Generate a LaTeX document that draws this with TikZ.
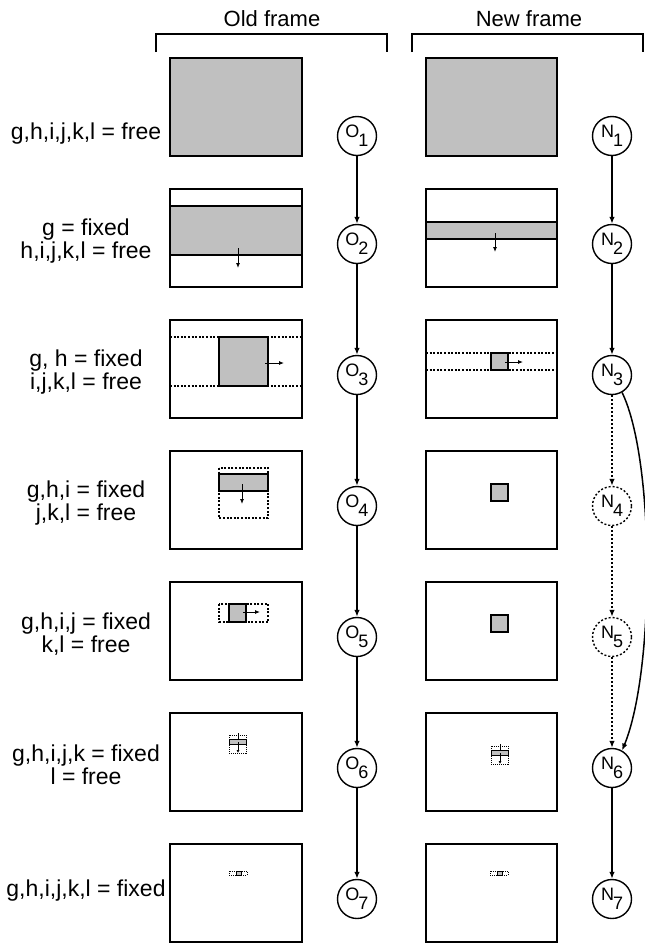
\documentclass[tikz,border=0pt]{standalone}
\usepackage{fontspec}
\setmainfont{Liberation Sans}
\usetikzlibrary{arrows.meta}
\definecolor{boxgray}{RGB}{192,192,192}
\begin{document}
\begin{tikzpicture}[x=1pt,y=-1pt,
  frame/.style={draw=black,line width=1.1pt},
  fillg/.style={fill=boxgray,draw=black,line width=1.1pt},
  dots/.style={draw=black,line width=1.1pt,dash pattern=on 2pt off 1.6pt},
  tdots/.style={draw=black,line width=0.7pt,dash pattern=on 1pt off 1pt},
  mv/.style={line width=0.9pt,-{Latex[length=5pt,width=4pt]}},
  tmv/.style={line width=0.7pt,-{Latex[length=3pt,width=3pt]}},
  st/.style={circle,draw,line width=1.4pt,minimum size=39pt,inner sep=0pt,font=\fontsize{18}{18}\selectfont},
  dst/.style={st,dash pattern=on 2pt off 2pt},
  conn/.style={line width=1.5pt,-{Latex[length=7pt,width=5.5pt]}},
  dconn/.style={conn,dash pattern=on 2pt off 2pt},
  lbl/.style={align=center,font=\fontsize{23}{22.5}\selectfont},
  hdr/.style={font=\fontsize{22}{24}\selectfont},
  brk/.style={line width=1.4pt}
]
\useasboundingbox (0,0) rectangle (645,943);

% headers and brackets
\node[hdr] (oldh) at (272,19) {Old frame};
\node[hdr] (newh) at (529,19) {New frame};
\draw[brk] (156,52) -- (156,34) -- (387,34) -- (387,52);
\draw[brk] (412,52) -- (412,34) -- (643,34) -- (643,52);

% row labels
\node[lbl] (l1) at (86,134) {g,h,i,j,k,l = free};
\node[lbl] (l2) at (86,241) {g = fixed\\h,i,j,k,l = free};
\node[lbl] (l3) at (86,372) {g, h = fixed\\i,j,k,l = free};
\node[lbl] (l4) at (86,503) {g,h,i = fixed\\j,k,l = free};
\node[lbl] (l5) at (86,634) {g,h,i,j = fixed\\k,l = free};
\node[lbl] (l6) at (86,765) {g,h,i,j,k = fixed\\l = free};
\node[lbl] (l7) at (86,891) {g,h,i,j,k,l = fixed};

% row 1
\draw[fillg] (170,58) rectangle (302,156);
\draw[fillg] (426,58) rectangle (557,156);

% row 2
\draw[frame] (170,189) rectangle (302,287);
\draw[fillg] (170,206) rectangle (302,255);
\draw[mv] (238,248) -- (238,268);
\draw[frame] (426,189) rectangle (557,287);
\draw[fillg] (426,222) rectangle (557,239);
\draw[mv] (495,233) -- (495,252);

% row 3
\draw[frame] (170,320) rectangle (302,418);
\draw[dots] (170,337) -- (302,337);
\draw[dots] (170,386) -- (302,386);
\draw[fillg] (219,337) rectangle (268,386);
\draw[mv] (265,363) -- (284,363);
\draw[frame] (426,320) rectangle (557,418);
\draw[dots] (426,353) -- (557,353);
\draw[dots] (426,370) -- (557,370);
\draw[fillg] (491,353) rectangle (508,370);
\draw[mv] (505,362) -- (523,362);

% row 4
\draw[frame] (170,451) rectangle (302,549);
\draw[dots] (219,468) rectangle (268,518);
\draw[fillg] (219,474) rectangle (268,491);
\draw[mv] (242,484) -- (242,504);
\draw[frame] (426,451) rectangle (557,549);
\draw[fillg] (491,484) rectangle (508,501);

% row 5
\draw[frame] (170,582) rectangle (302,680);
\draw[dots] (219,604) rectangle (268,622);
\draw[fillg] (229,604) rectangle (246,622);
\draw[mv] (243,612) -- (260,612);
\draw[frame] (426,582) rectangle (557,680);
\draw[fillg] (491,615) rectangle (508,632);

% row 6
\draw[frame] (170,713) rectangle (302,811);
\draw[tdots] (229,735) rectangle (246,753);
\draw[fill=boxgray,draw=black,line width=0.7pt] (229,739) rectangle (246,744);
\draw[line width=0.7pt] (238,733) -- (238,739);
\draw[tmv] (238,742) -- (238,753);
\draw[frame] (426,713) rectangle (557,811);
\draw[tdots] (491,746) rectangle (508,764);
\draw[fill=boxgray,draw=black,line width=0.7pt] (491,750) rectangle (508,755);
\draw[line width=0.7pt] (500,744) -- (500,750);
\draw[tmv] (500,753) -- (500,764);

% row 7
\draw[frame] (170,844) rectangle (302,942);
\draw[tdots] (229,871) rectangle (247,875);
\draw[fill=boxgray,draw=black,line width=0.5pt] (236,871) rectangle (241,875);
\draw[frame] (426,844) rectangle (557,942);
\draw[tdots] (490,871) rectangle (508,875);
\draw[fill=boxgray,draw=black,line width=0.5pt] (497,871) rectangle (502,875);

% state nodes
\node[st] (O1) at (357,136) {O\kern-1pt\raisebox{-9pt}{1}};
\node[st] (O2) at (357,244) {O\kern-1pt\raisebox{-9pt}{2}};
\node[st] (O3) at (357,375) {O\kern-1pt\raisebox{-9pt}{3}};
\node[st] (O4) at (357,506) {O\kern-1pt\raisebox{-9pt}{4}};
\node[st] (O5) at (357,637) {O\kern-1pt\raisebox{-9pt}{5}};
\node[st] (O6) at (357,768) {O\kern-1pt\raisebox{-9pt}{6}};
\node[st] (O7) at (357,899) {O\kern-1pt\raisebox{-9pt}{7}};
\node[st] (N1) at (612,136) {N\kern-1pt\raisebox{-9pt}{1}};
\node[st] (N2) at (612,244) {N\kern-1pt\raisebox{-9pt}{2}};
\node[st] (N3) at (612,375) {N\kern-1pt\raisebox{-9pt}{3}};
\node[dst] (N4) at (612,506) {N\kern-1pt\raisebox{-9pt}{4}};
\node[dst] (N5) at (612,637) {N\kern-1pt\raisebox{-9pt}{5}};
\node[st] (N6) at (612,768) {N\kern-1pt\raisebox{-9pt}{6}};
\node[st] (N7) at (612,899) {N\kern-1pt\raisebox{-9pt}{7}};

% connectors
\draw[conn] (O1) -- (O2);
\draw[conn] (O2) -- (O3);
\draw[conn] (O3) -- (O4);
\draw[conn] (O4) -- (O5);
\draw[conn] (O5) -- (O6);
\draw[conn] (O6) -- (O7);
\draw[conn] (N1) -- (N2);
\draw[conn] (N2) -- (N3);
\draw[dconn] (N3) -- (N4);
\draw[dconn] (N4) -- (N5);
\draw[dconn] (N5) -- (N6);
\draw[conn] (N6) -- (N7);
\draw[conn] (N3.-60) .. controls (655,460) and (655,670) .. (N6.60);
\end{tikzpicture}
\end{document}
